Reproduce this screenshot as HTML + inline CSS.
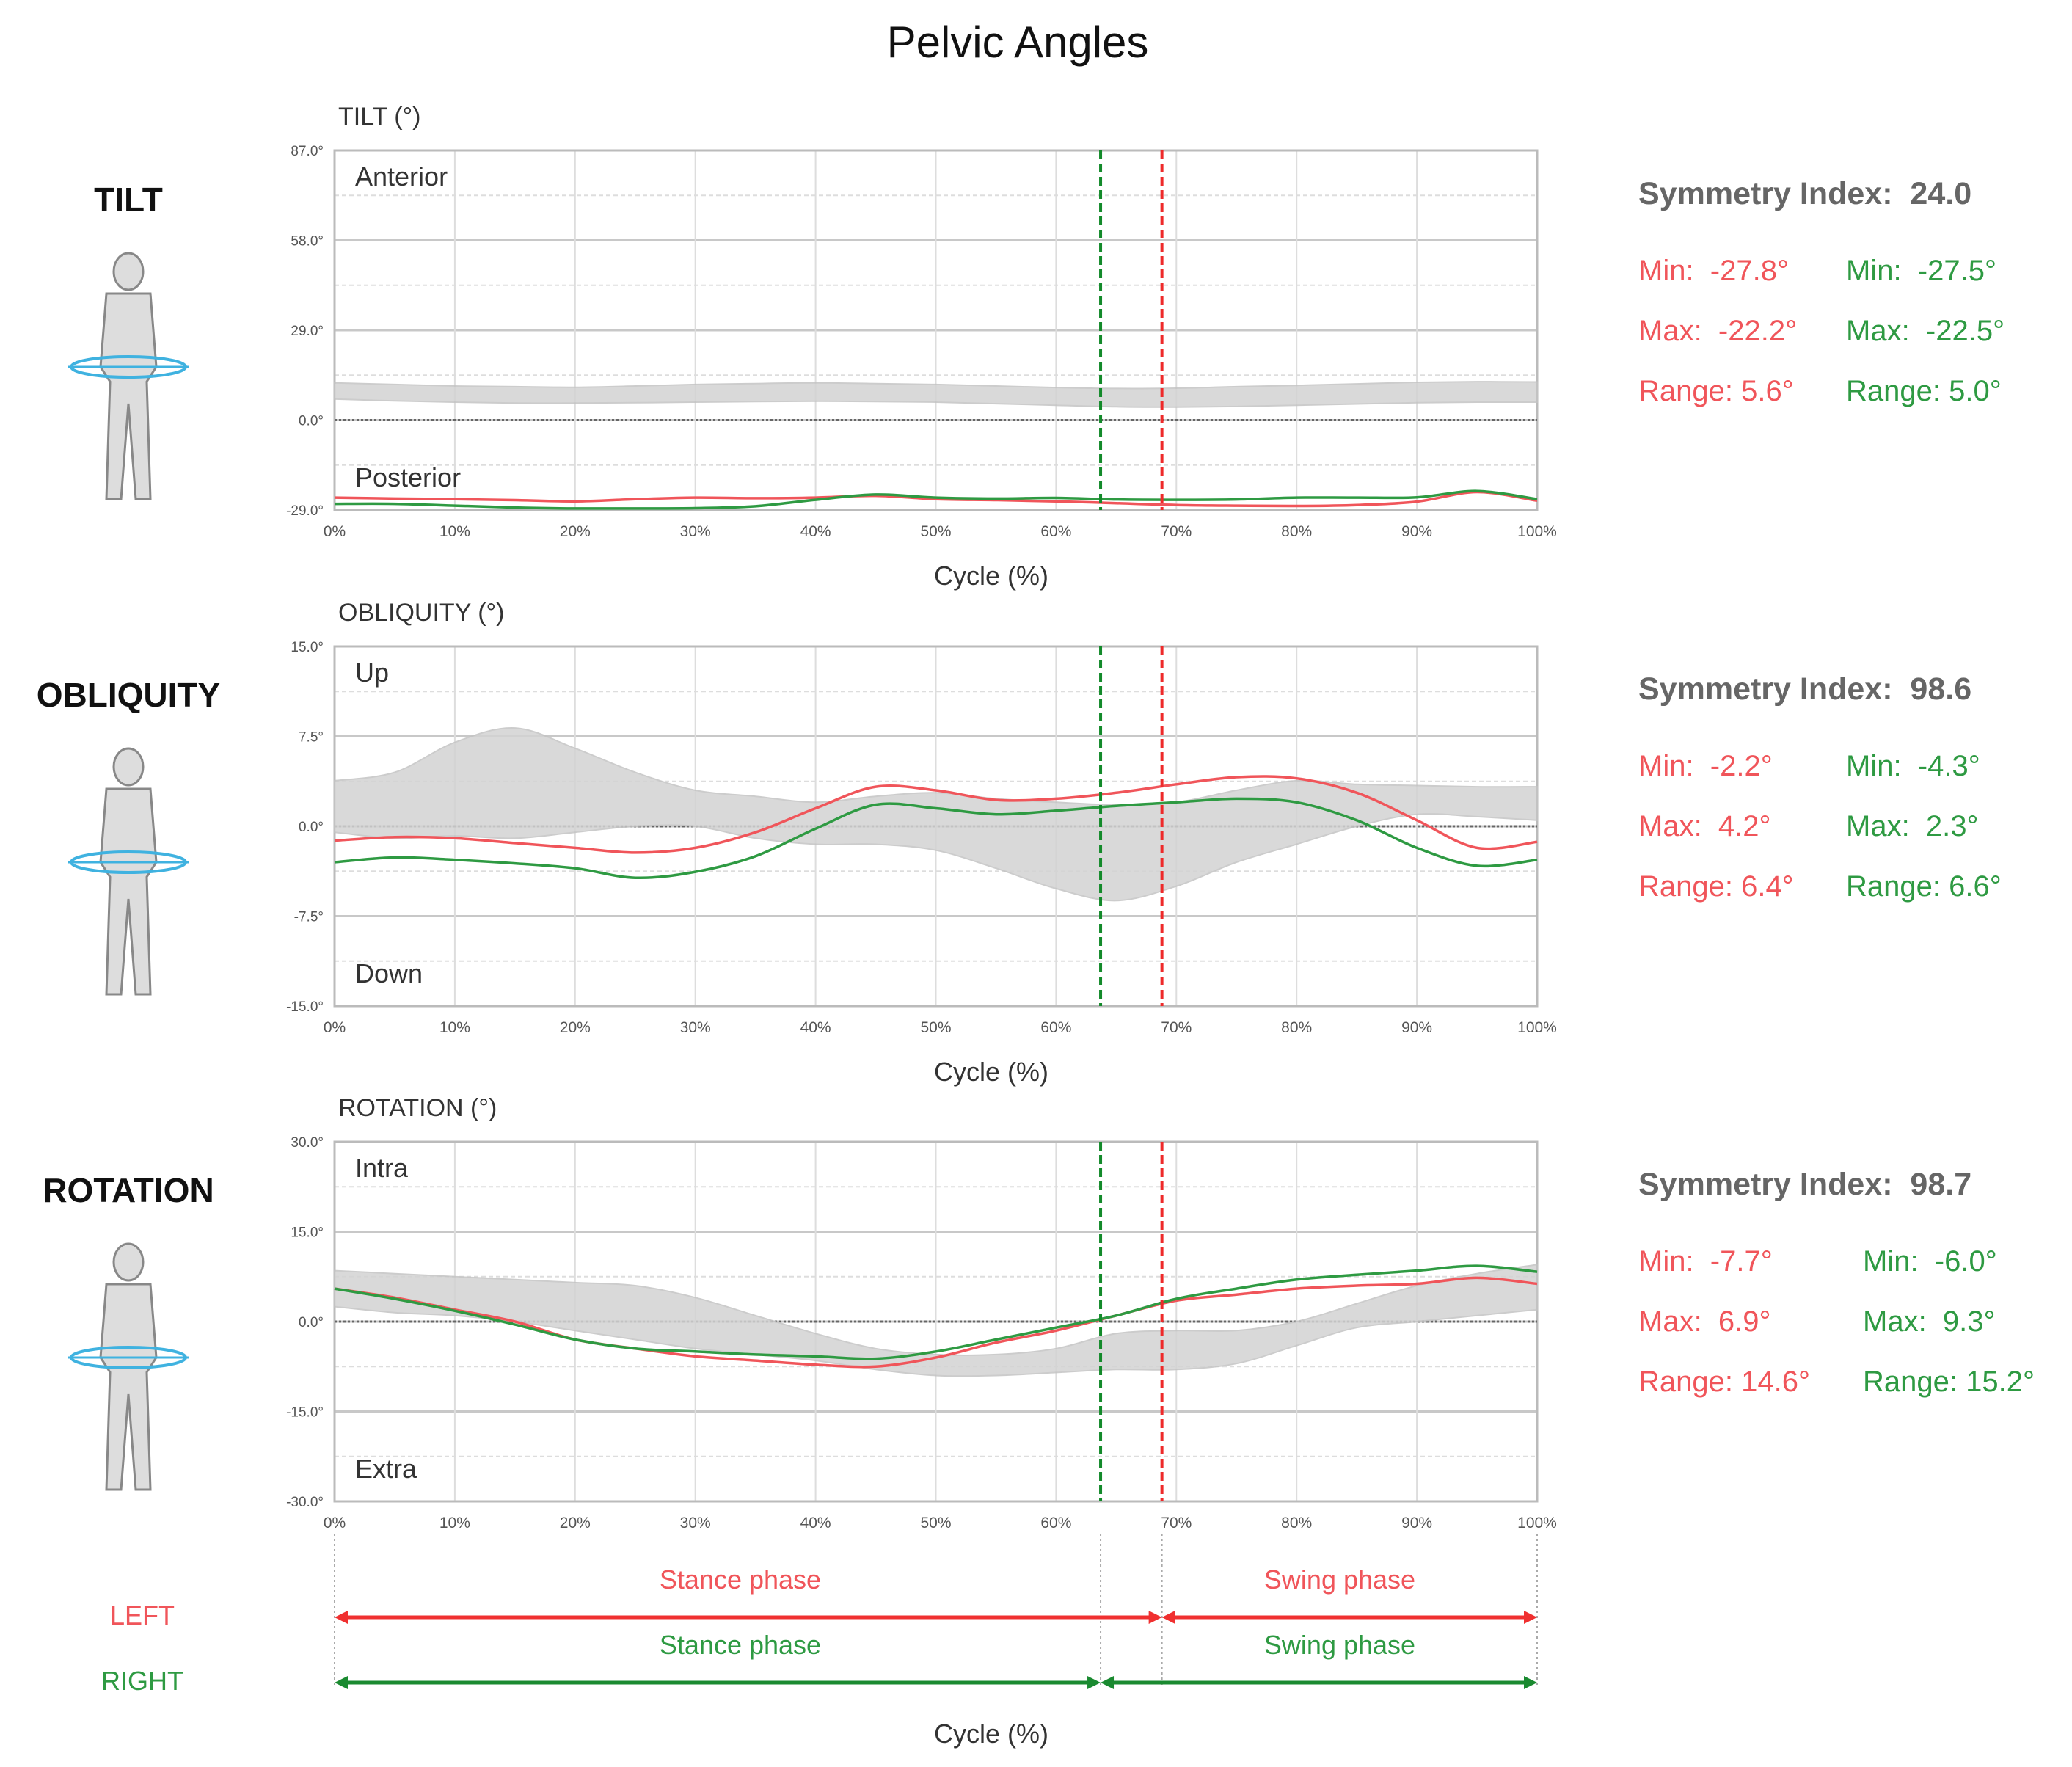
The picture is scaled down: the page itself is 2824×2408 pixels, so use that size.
<!DOCTYPE html>
<html><head><meta charset="utf-8"><style>
html,body{margin:0;padding:0;background:#fff}
svg{display:block;font-family:"Liberation Sans",sans-serif}
text{white-space:pre}
</style></head><body>
<svg id="root" width="2824" height="2408" viewBox="0 0 2824 2408" xmlns="http://www.w3.org/2000/svg">
<text x="1387" y="78" font-size="60" text-anchor="middle" fill="#111">Pelvic Angles</text>
<g id="charts"></g>
<g id="side"></g>
<g id="phases"></g>
</svg>
<script>
const cycle = [0,5,10,15,20,25,30,35,40,45,50,55,60,65,70,75,80,85,90,95,100];
const xTicks = ["0%","10%","20%","30%","40%","50%","60%","70%","80%","90%","100%"];
const rightToeOff = 63.7;
const leftToeOff = 68.8;

const tiltTicks = ["87.0°","58.0°","29.0°","0.0°","-29.0°"];
const tiltLeft  = [-25,-25.3,-25.5,-25.8,-26.2,-25.5,-25,-25.2,-25,-24.4,-25.5,-25.8,-26.2,-26.8,-27.4,-27.6,-27.7,-27.4,-26.3,-23.2,-26];
const tiltRight = [-27,-27,-27.6,-28.2,-28.5,-28.5,-28.4,-27.8,-25.7,-24,-25,-25.3,-25.1,-25.6,-25.7,-25.6,-25,-25,-24.9,-22.9,-25.5];
const tiltBandHi = [12,11.5,11,10.8,10.6,11,11.5,11.8,12,11.8,11.5,11,10.5,10.2,10.3,10.8,11.2,11.7,12.2,12.4,12.3];
const tiltBandLo = [6.8,6.2,5.8,5.5,5.5,5.6,5.8,6,6.1,6,5.8,5.3,4.8,4.3,4.2,4.4,4.8,5.2,5.6,5.8,5.8];

const obqTicks = ["15.0°","7.5°","0.0°","-7.5°","-15.0°"];
const obqLeft  = [-1.2,-0.9,-1,-1.4,-1.8,-2.2,-1.8,-0.5,1.5,3.3,3,2.2,2.3,2.8,3.5,4.1,4,2.8,0.5,-1.8,-1.3];
const obqRight = [-3,-2.6,-2.8,-3.1,-3.5,-4.3,-3.8,-2.5,-0.2,1.8,1.5,1,1.3,1.7,2,2.3,2,0.5,-1.8,-3.3,-2.8];
const obqBandHi = [3.8,4.5,7,8.2,6.5,4.5,3,2.5,2,2.5,2.8,2.3,2,1.8,2,3,3.8,3.5,3.4,3.3,3.3];
const obqBandLo = [-0.5,-1,-0.8,-1,-0.5,0,0,-1,-1.5,-1.5,-2,-3.5,-5.2,-6.2,-5,-3,-1.5,0,1,0.8,0.5];

const rotTicks = ["30.0°","15.0°","0.0°","-15.0°","-30.0°"];
const rotLeft  = [5.5,4,2,0,-3,-4.5,-5.8,-6.5,-7.2,-7.5,-6,-3.5,-1.5,1,3.5,4.5,5.5,6,6.3,7.3,6.3];
const rotRight = [5.5,3.8,1.8,-0.5,-3,-4.5,-5,-5.5,-5.8,-6.2,-5,-3,-1,1,3.8,5.5,7,7.8,8.5,9.3,8.3];
const rotBandHi = [8.5,8,7.5,7,6.5,6,4,1,-2,-4.5,-5.5,-5.5,-4.5,-2,-1.5,-1.5,0,3,6,8,9.5];
const rotBandLo = [2.5,1.5,1,0,-1.5,-3,-4.5,-5.5,-6.5,-8,-9,-9,-8.5,-8,-8,-7,-4,-1,0,1,2];

const NS="http://www.w3.org/2000/svg";
const X0=456, X1=2095;
function mk(tag,attrs,parent,text){const e=document.createElementNS(NS,tag);for(const k in attrs)e.setAttribute(k,attrs[k]);if(text!==undefined)e.textContent=text;parent.appendChild(e);return e;}
function xs(p){return X0+(X1-X0)*p/100;}
function smooth(pts,start){
  let d=start?("M"+pts[0][0].toFixed(1)+","+pts[0][1].toFixed(1)):("L"+pts[0][0].toFixed(1)+","+pts[0][1].toFixed(1));
  for(let i=0;i<pts.length-1;i++){
    const p0=pts[Math.max(0,i-1)],p1=pts[i],p2=pts[i+1],p3=pts[Math.min(pts.length-1,i+2)];
    const c1=[p1[0]+(p2[0]-p0[0])/6,p1[1]+(p2[1]-p0[1])/6];
    const c2=[p2[0]-(p3[0]-p1[0])/6,p2[1]-(p3[1]-p1[1])/6];
    d+="C"+c1[0].toFixed(1)+","+c1[1].toFixed(1)+" "+c2[0].toFixed(1)+","+c2[1].toFixed(1)+" "+p2[0].toFixed(1)+","+p2[1].toFixed(1);
  }
  return d;
}

function chart(cfg){
  const g=mk("g",{},document.getElementById("charts"));
  
  
  const top=cfg.top, bot=cfg.top+490;
  const ys=v=>bot-(v-cfg.min)/(cfg.max-cfg.min)*(bot-top);
  const t=mk("text",{x:461,y:top-35,"font-size":34,fill:"#333"},g,cfg.title);
  
  
  for(let i=0;i<=8;i++){
    const y=top+(bot-top)*i/8;
    const major=i%2===0;
    mk("line",{x1:X0,x2:X1,y1:y,y2:y,stroke:major?"#c8c8c8":"#ddd","stroke-width":major?3:2,"stroke-dasharray":major?"":"6 4"},g);
  }
  for(let i=0;i<=10;i++){
    const x=xs(i*10);
    mk("line",{x1:x,x2:x,y1:top,y2:bot,stroke:"#ddd","stroke-width":2},g);
    const lt=mk("text",{x:x,y:bot+36,"font-size":21,"text-anchor":"middle",fill:"#555"},g,xTicks[i]);
    
    
  }
  cfg.ticks.forEach((s,i)=>{
    const y=top+(bot-top)*i/4;
    const lt=mk("text",{x:441,y:y+7,"font-size":19,"text-anchor":"end",fill:"#555"},g,s);
    
    
  });
  mk("rect",{x:X0,y:top,width:X1-X0,height:bot-top,fill:"none",stroke:"#bbb","stroke-width":3},g);
  mk("line",{x1:X0,x2:X1,y1:ys(0),y2:ys(0),stroke:"#666","stroke-width":3,"stroke-dasharray":"3 3"},g);
  const hiPts=cycle.map((c,i)=>[xs(c),ys(cfg.hi[i])]);
  const loPts=cycle.map((c,i)=>[xs(c),ys(cfg.lo[i])]).reverse();
  const band=mk("path",{d:smooth(hiPts,true)+smooth(loPts,false)+"Z",fill:"#d3d3d3",stroke:"#c4c4c4","stroke-width":2,opacity:0.85},g);
  
  
  mk("text",{x:484,y:top+48,"font-size":36,fill:"#333"},g,cfg.upLabel);
  mk("text",{x:484,y:bot-32,"font-size":36,fill:"#333"},g,cfg.downLabel);
  function line(vals,col,nm){
    const pts=cycle.map((c,i)=>[xs(c),ys(vals[i])]);
    const el=mk("path",{d:smooth(pts,true),fill:"none",stroke:col,"stroke-width":3.5,"stroke-linejoin":"round"},g);
    
    
  }
  line(cfg.left,"#f0555a",cfg.name+"-left-line");
  line(cfg.right,"#2e9a42",cfg.name+"-right-line");
  const vg=mk("line",{x1:xs(rightToeOff),x2:xs(rightToeOff),y1:top,y2:bot,stroke:"#138a2a","stroke-width":4,"stroke-dasharray":"12 6"},g);
  
  
  const vr=mk("line",{x1:xs(leftToeOff),x2:xs(leftToeOff),y1:top,y2:bot,stroke:"#ee2a2a","stroke-width":4,"stroke-dasharray":"12 6"},g);
  
  
  if(cfg.cycleTitle){
    const ct=mk("text",{x:1351,y:bot+102,"font-size":36,"text-anchor":"middle",fill:"#333"},g,"Cycle (%)");
    
    
  }
}
chart({name:"tilt",title:"TILT (°)",top:205,min:-29,max:87,ticks:tiltTicks,left:tiltLeft,right:tiltRight,hi:tiltBandHi,lo:tiltBandLo,upLabel:"Anterior",downLabel:"Posterior",cycleTitle:true});
chart({name:"obliquity",title:"OBLIQUITY (°)",top:881,min:-15,max:15,ticks:obqTicks,left:obqLeft,right:obqRight,hi:obqBandHi,lo:obqBandLo,upLabel:"Up",downLabel:"Down",cycleTitle:true});
chart({name:"rotation",title:"ROTATION (°)",top:1556,min:-30,max:30,ticks:rotTicks,left:rotLeft,right:rotRight,hi:rotBandHi,lo:rotBandLo,upLabel:"Intra",downLabel:"Extra",cycleTitle:false});

const side=document.getElementById("side");
const stats=[
 {label:"TILT",si:"24.0",l:["Min:  -27.8°","Max:  -22.2°","Range: 5.6°"],r:["Min:  -27.5°","Max:  -22.5°","Range: 5.0°"],rx:2516},
 {label:"OBLIQUITY",si:"98.6",l:["Min:  -2.2°","Max:  4.2°","Range: 6.4°"],r:["Min:  -4.3°","Max:  2.3°","Range: 6.6°"],rx:2516},
 {label:"ROTATION",si:"98.7",l:["Min:  -7.7°","Max:  6.9°","Range: 14.6°"],r:["Min:  -6.0°","Max:  9.3°","Range: 15.2°"],rx:2539}
];
stats.forEach((s,k)=>{
  const off=k*675;
  const lb=mk("text",{x:175,y:288+off,"font-size":46,"font-weight":"bold","text-anchor":"middle",fill:"#111"},side,s.label);
  
  
  const fg=mk("g",{transform:"translate(175,"+(520+off)+")"},side);
  
  
  mk("ellipse",{cx:0,cy:-150,rx:20,ry:25,fill:"#ddd",stroke:"#888","stroke-width":3},fg);
  mk("path",{d:"M-30,-120 L30,-120 L38,-20 L25,0 L30,160 L10,160 L0,30 L-10,160 L-30,160 L-25,0 L-38,-20 Z",fill:"#ddd",stroke:"#888","stroke-width":3},fg);
  mk("ellipse",{cx:0,cy:-20,rx:78,ry:14,fill:"none",stroke:"#3fb2e0","stroke-width":4},fg);
  mk("line",{x1:-82,x2:82,y1:-20,y2:-20,stroke:"#3fb2e0","stroke-width":3},fg);
  const si=mk("text",{x:2233,y:278+off,"font-size":43,"font-weight":"bold",fill:"#666"},side,"Symmetry Index:  "+s.si);
  
  
  [0,1,2].forEach(i=>{
    const y=382+off+i*82;
    const a=mk("text",{x:2233,y:y,"font-size":40,fill:"#f0555a"},side,s.l[i]);
    
    
    const b=mk("text",{x:s.rx,y:y,"font-size":40,fill:"#2e9a42"},side,s.r[i]);
    
    
  });
});

const ph=document.getElementById("phases");
const xr=xs(leftToeOff), xg=xs(rightToeOff);
[X0,xg,xr,X1].forEach(x=>mk("line",{x1:x,x2:x,y1:2090,y2:2300,stroke:"#aaa","stroke-width":2,"stroke-dasharray":"3 4"},ph));
function arrow(y,x1,x2,col){
  mk("line",{x1:x1+14,x2:x2-14,y1:y,y2:y,stroke:col,"stroke-width":5},ph);
  mk("path",{d:`M${x1},${y} l18,-9 l0,18 Z`,fill:col},ph);
  mk("path",{d:`M${x2},${y} l-18,-9 l0,18 Z`,fill:col},ph);
}
arrow(2204,X0,xr,"#f03030"); arrow(2204,xr,X1,"#f03030");
arrow(2293,X0,xg,"#1a8a30"); arrow(2293,xg,X1,"#1a8a30");
const pt=[["Stance phase",1009,2165,"#f0555a"],["Swing phase",1826,2165,"#f0555a"],["Stance phase",1009,2254,"#2e9a42"],["Swing phase",1826,2254,"#2e9a42"],["LEFT",194,2214,"#f0555a"],["RIGHT",194,2303,"#2e9a42"],["Cycle (%)",1351,2375,"#333"]];
pt.forEach(p=>{
  const e=mk("text",{x:p[1],y:p[2],"font-size":36,"text-anchor":"middle",fill:p[3]},ph,p[0]);
  
  
});
</script>
</body></html>
